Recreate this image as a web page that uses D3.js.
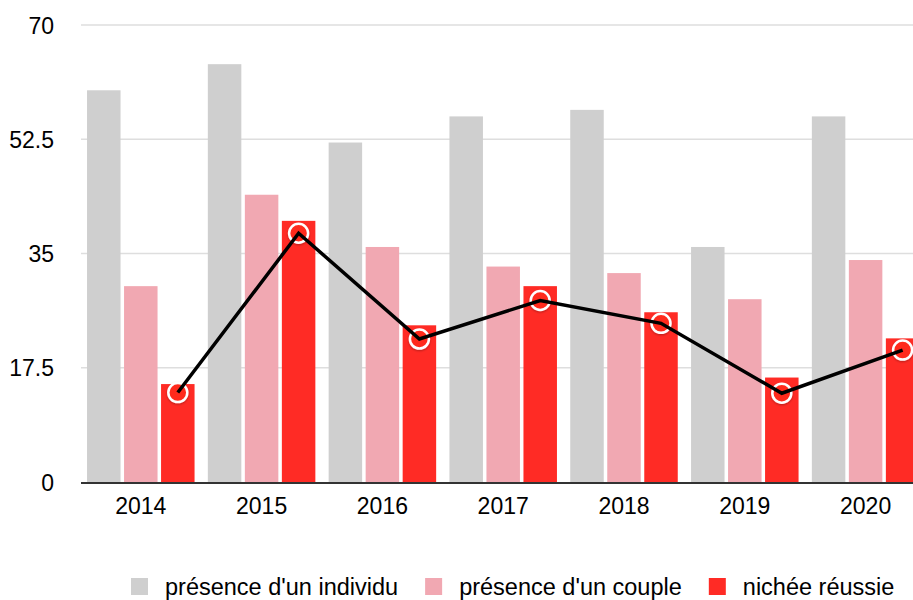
<!DOCTYPE html>
<html>
<head>
<meta charset="utf-8">
<script src="https://cdn.jsdelivr.net/npm/d3@7"></script>
<style>
  body { margin: 0; background: #fff; }
  text { font-family: "Liberation Sans", Arial, Helvetica, sans-serif; fill: #000; }
</style>
</head>
<body>
<div id="chart"></div>
<script>
const years = ['2014', '2015', '2016', '2017', '2018', '2019', '2020'];
const seriesNames = ["présence d'un individu", "présence d'un couple", 'nichée réussie'];
const individu = [60, 64, 52, 56, 57, 36, 56];
const couple = [30, 44, 36, 33, 32, 28, 34];
const nichee = [15, 40, 24, 30, 26, 16, 22];
const trend = [13.7, 38.1, 21.9, 27.8, 24.3, 13.6, 20.2];
const yTicks = [0, 17.5, 35, 52.5, 70];
const colors = ['#cfcfcf', '#f1a8b2', '#ff2b25'];

const width = 913;
const height = 600;
const left = 81;

const svg = d3.select('#chart')
    .append('svg')
    .attr('width', width)
    .attr('height', height);

const defs = svg.append('defs');
const shadow = defs.append('filter').attr('id', 'shadow')
    .attr('x', '-50%').attr('y', '-50%').attr('width', '200%').attr('height', '200%');
shadow.append('feDropShadow')
    .attr('dx', 0).attr('dy', 1).attr('stdDeviation', 1.2)
    .attr('flood-color', '#000').attr('flood-opacity', 0.3);

const x0 = d3.scaleBand()
    .domain(years)
    .range([left, 925.4])
    .paddingInner(0.11)
    .paddingOuter(0.05);

const x1 = d3.scaleBand()
    .domain(d3.range(3))
    .range([0, x0.bandwidth()])
    .paddingInner(0.095);

const y = d3.scaleLinear()
    .domain([0, 70])
    .range([482, 25]);

// grille
svg.append('g')
    .selectAll('line')
    .data(yTicks.filter(d => d > 0))
    .enter().append('line')
    .attr('x1', left)
    .attr('x2', width)
    .attr('y1', d => y(d))
    .attr('y2', d => y(d))
    .attr('stroke', '#dedede')
    .attr('stroke-width', 1.5);

// axe y
const yAxis = svg.append('g')
    .attr('transform', `translate(54,0)`)
    .call(d3.axisLeft(y).tickValues(yTicks).tickSize(0).tickPadding(0)
        .tickFormat(d => String(d)));
yAxis.select('.domain').remove();
yAxis.selectAll('text')
    .style('font-size', '23px')
    .attr('dy', '0.35em');

// barres
const allSeries = [individu, couple, nichee];
const group = svg.append('g')
    .selectAll('g')
    .data(years)
    .enter().append('g')
    .attr('transform', d => `translate(${x0(d)},0)`);

group.selectAll('rect')
    .data((d, i) => allSeries.map((s, k) => ({ k: k, v: s[i] })))
    .enter().append('rect')
    .attr('x', d => x1(d.k))
    .attr('width', x1.bandwidth())
    .attr('y', d => y(d.v))
    .attr('height', d => y(0) - y(d.v))
    .attr('fill', d => colors[d.k]);

// axe x
svg.append('line')
    .attr('x1', left)
    .attr('x2', width)
    .attr('y1', y(0) + 1)
    .attr('y2', y(0) + 1)
    .attr('stroke', '#333')
    .attr('stroke-width', 2);

const xAxis = svg.append('g')
    .attr('transform', `translate(0,${y(0)})`)
    .call(d3.axisBottom(x0).tickSize(0).tickPadding(0));
xAxis.select('.domain').remove();
xAxis.selectAll('text')
    .style('font-size', '23px')
    .attr('dy', null)
    .attr('y', 32);

// courbe
const cx = (d, i) => x0(years[i]) + x1(2) + x1.bandwidth() / 2;

svg.append('g')
    .selectAll('circle')
    .data(trend)
    .enter().append('circle')
    .attr('cx', cx)
    .attr('cy', d => y(d))
    .attr('r', 9.5)
    .attr('fill', '#ff2a1c')
    .attr('stroke', '#fff')
    .attr('stroke-width', 2.5)
    .attr('filter', 'url(#shadow)');

const line = d3.line()
    .x(cx)
    .y(d => y(d));

svg.append('path')
    .datum(trend)
    .attr('d', line)
    .attr('fill', 'none')
    .attr('stroke', '#000')
    .attr('stroke-width', 3.5)
    .attr('stroke-linejoin', 'miter');

// légende
const legend = svg.append('g');
let lx = 131;
seriesNames.forEach((name, k) => {
    legend.append('rect')
        .attr('x', lx)
        .attr('y', 578)
        .attr('width', 17)
        .attr('height', 17)
        .attr('fill', colors[k]);
    const t = legend.append('text')
        .attr('x', lx + 34)
        .attr('y', 595)
        .style('font-size', '23.5px')
        .text(name);
    lx += 34 + t.node().getComputedTextLength() + 27;
});
</script>
</body>
</html>
